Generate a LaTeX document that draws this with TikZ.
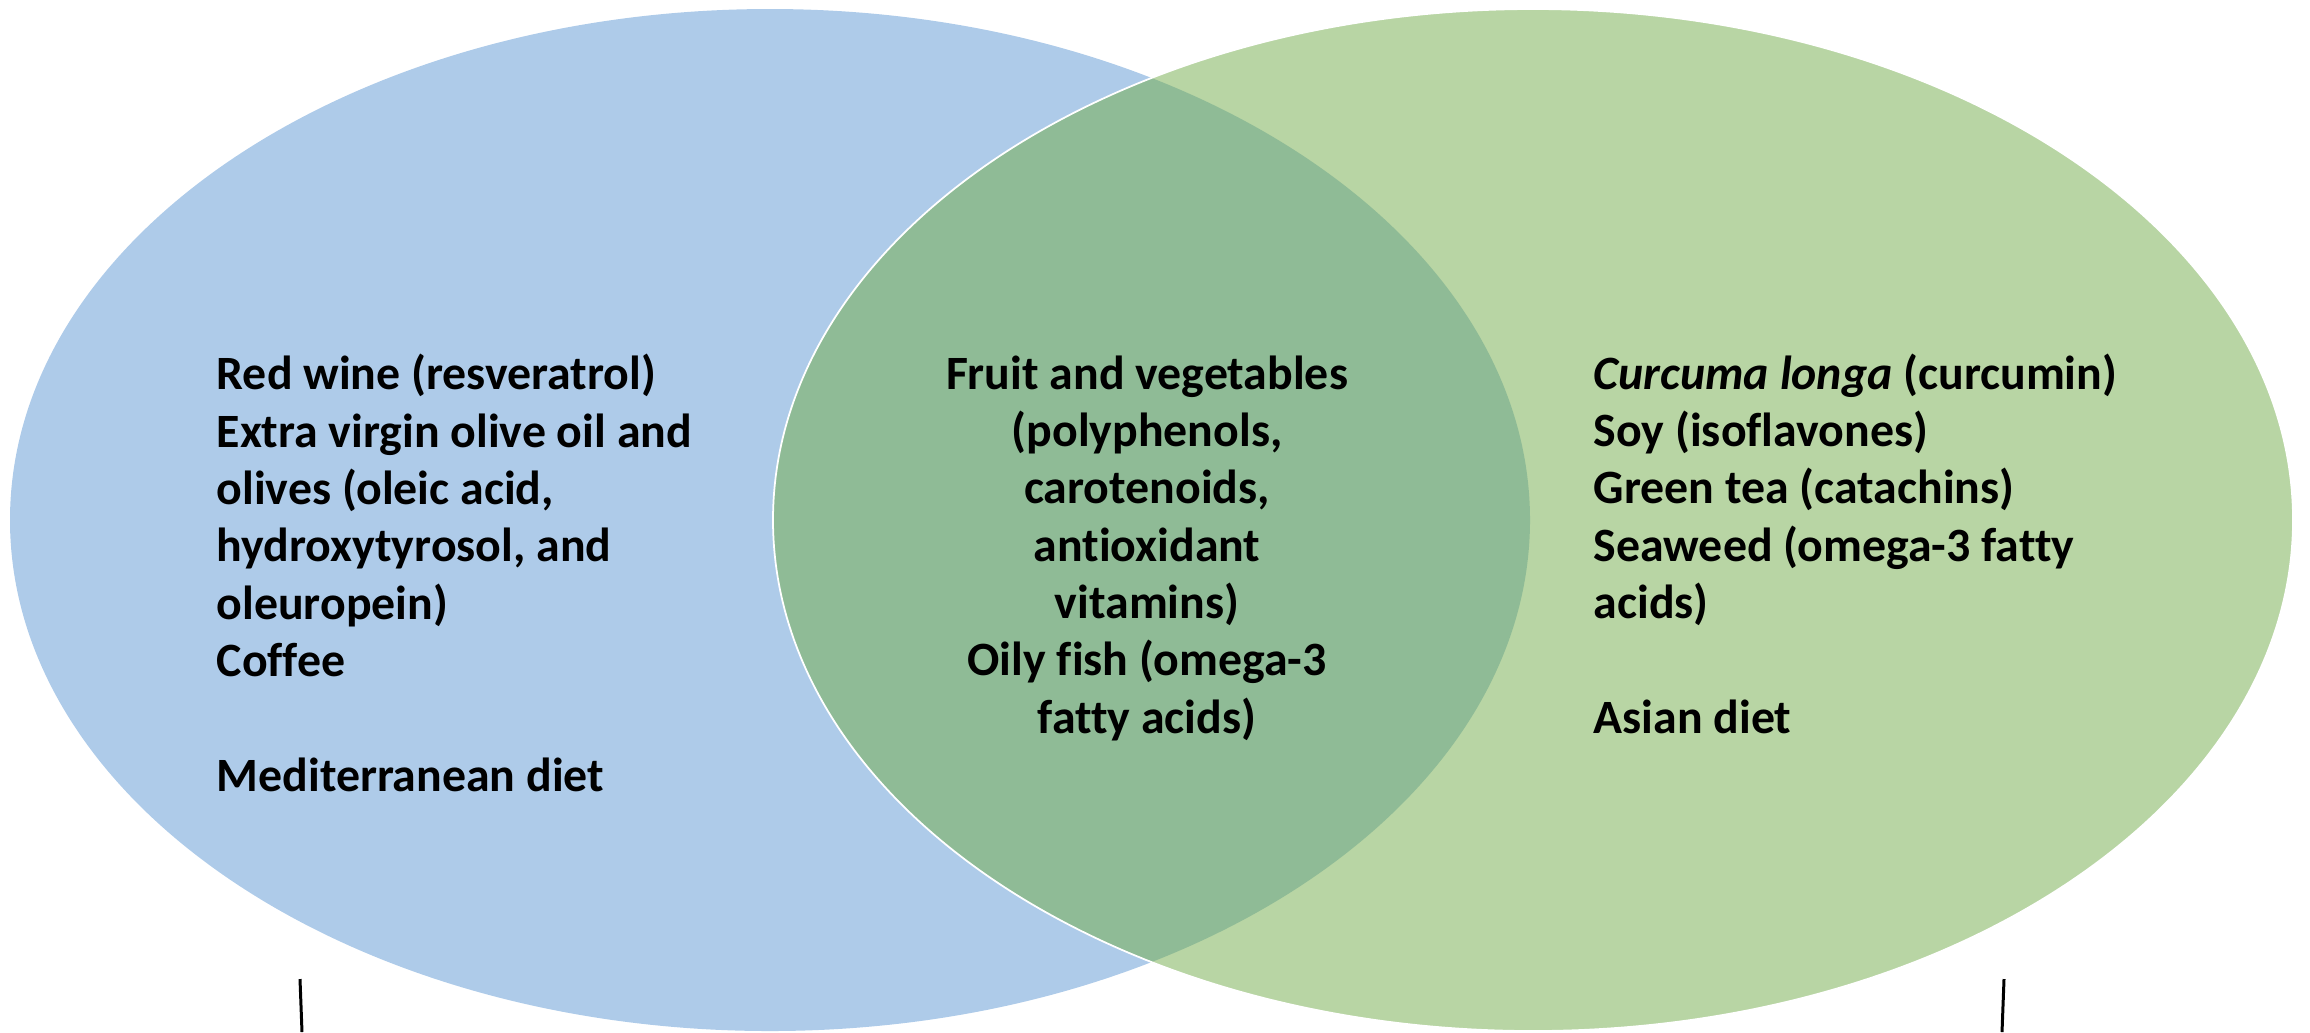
\documentclass[tikz,border=0pt]{standalone}
\usepackage{fontspec}
\setmainfont{Carlito}[Ligatures=NoCommon]
\definecolor{dietblue}{RGB}{174,203,233}
\definecolor{dietgreen}{RGB}{184,213,164}
\definecolor{dietboth}{RGB}{143,187,150}
\begin{document}
\begin{tikzpicture}[x=0.01cm,y=-0.01cm,
  lbl/.style={font=\bfseries\fontsize{13.6}{16.3}\selectfont, inner sep=0pt}]
  \useasboundingbox (0,0) rectangle (2310,1032);
  \coordinate (med) at (770,520);
  \coordinate (asia) at (1533,520);
  % the two diets and their overlap
  \fill[dietblue] (med) ellipse [x radius=760, y radius=511];
  \fill[dietgreen] (asia) ellipse [x radius=760, y radius=511];
  \begin{scope}
    \clip (med) ellipse [x radius=760, y radius=511];
    \fill[dietboth] (asia) ellipse [x radius=760, y radius=511];
  \end{scope}
  \draw[white, line width=0.5pt] (asia) ellipse [x radius=760, y radius=511];
  % base anchor sits on the last line
  \node[lbl, anchor=base west, align=left] (medtxt) at (216,791)
    {Red wine (resveratrol)\\Extra virgin olive oil and\\olives (oleic acid,\\hydroxytyrosol, and\\oleuropein)\\Coffee\\[16.3pt]Mediterranean diet};
  \node[lbl, anchor=base, align=center] (bothtxt) at (1147,733)
    {Fruit and vegetables\\(polyphenols,\\carotenoids,\\antioxidant\\vitamins)\\Oily fish (omega-3\\fatty acids)};
  \node[lbl, anchor=base west, align=left] (asiatxt) at (1593,733)
    {\textit{Curcuma longa} (curcumin)\\Soy (isoflavones)\\Green tea (catachins)\\Seaweed (omega-3 fatty\\acids)\\[16.3pt]Asian diet};
  % stray strokes below the ellipses
  \coordinate (ltop) at (300,979);
  \coordinate (lbot) at (302,1032);
  \coordinate (rtop) at (2004,979);
  \coordinate (rbot) at (2002,1032);
  \draw[line width=0.85pt] (ltop) -- (lbot);
  \draw[line width=0.85pt] (rtop) -- (rbot);
\end{tikzpicture}
\end{document}
